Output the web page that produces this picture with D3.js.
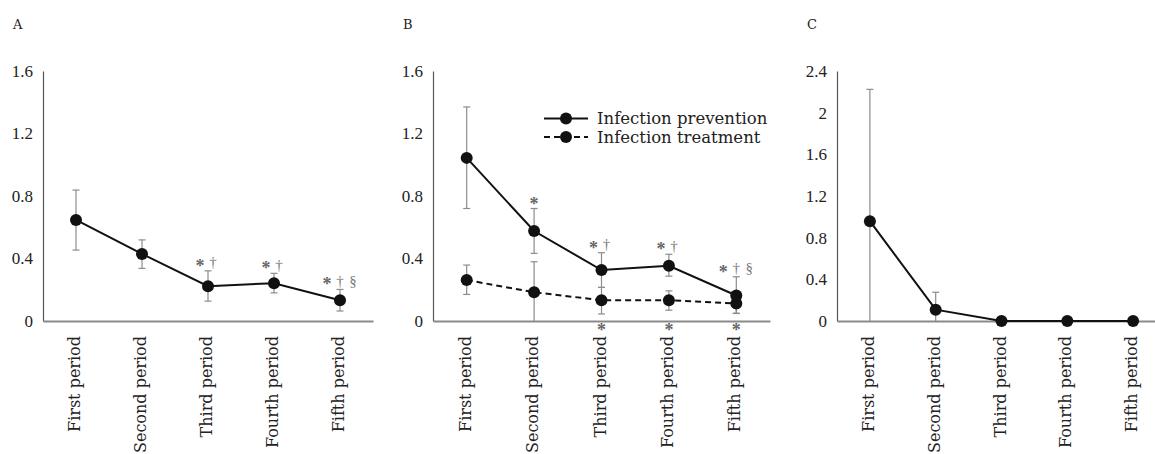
<!DOCTYPE html>
<html>
<head>
<meta charset="utf-8">
<script src="https://cdn.jsdelivr.net/npm/d3@7"></script>
<style>
  body { margin: 0; background: #fff; }
  svg { display: block; }
</style>
</head>
<body>
<svg id="chart" width="1155" height="454"></svg>
<script>
const periods = ["First period", "Second period", "Third period", "Fourth period", "Fifth period"];

const ticksAB = [0, 0.4, 0.8, 1.2, 1.6];
const ticksC = [0, 0.4, 0.8, 1.2, 1.6, 2, 2.4];

// panel A
const aMean = [0.647, 0.429, 0.223, 0.242, 0.133];
const aLow = [0.454, 0.337, 0.127, 0.180, 0.064];
const aHigh = [0.838, 0.519, 0.321, 0.305, 0.202];
const aMarks = ["", "", "*†", "*†", "*†§"];

// panel B
const prevMean = [1.044, 0.576, 0.326, 0.353, 0.163];
const prevLow = [0.720, 0.433, 0.215, 0.287, 0.048];
const prevHigh = [1.370, 0.720, 0.437, 0.427, 0.283];
const prevMarks = ["", "*", "*†", "*†", "*†§"];
const treatMean = [0.262, 0.184, 0.133, 0.133, 0.112];
const treatLow = [0.170, 0, 0.045, 0.069, 0.050];
const treatHigh = [0.358, 0.379, 0.215, 0.193, 0.160];
const treatMarks = ["", "", "*", "*", "*"];

// panel C
const cMean = [0.958, 0.109, 0, 0, 0];
const cLow = [0, 0, 0, 0, 0];
const cHigh = [2.224, 0.276, 0, 0, 0];

const legendLabels = ["Infection prevention", "Infection treatment"];

const svg = d3.select("#chart");
const yTop = 71, yBottom = 321;
const fmt = d => String(+d.toFixed(1));

function makeSeries(mean, low, high) {
    return mean.map((m, i) => ({ period: periods[i], mean: m, low: low[i], high: high[i] }));
}

function drawPanel(opt) {
    const g = svg.append("g");
    const x = d3.scaleBand().domain(periods).range([opt.x0, opt.x1]);
    const y = d3.scaleLinear().domain([0, d3.max(opt.ticks)]).range([yBottom, yTop]);
    const cx = p => x(p) + x.bandwidth() / 2;

    g.append("text").attr("x", opt.x0 - 30).attr("y", 29)
        .attr("font-family", "DejaVu Serif").attr("font-size", 13).attr("fill", "#222")
        .text(opt.letter);

    const yAxis = g.append("g").attr("transform", `translate(${opt.x0},0)`)
        .call(d3.axisLeft(y).tickValues(opt.ticks).tickFormat(fmt).tickSize(0).tickPadding(10));
    yAxis.select(".domain").attr("stroke", "#555").attr("stroke-width", 1.2);
    yAxis.selectAll("text").attr("font-family", "Liberation Serif").attr("font-size", 17).attr("fill", "#222");

    const xAxis = g.append("g").attr("transform", `translate(0,${yBottom})`)
        .call(d3.axisBottom(x).tickSize(0).tickFormat(""));
    xAxis.select(".domain").attr("stroke", "#8a8a8a").attr("stroke-width", 2);

    g.selectAll(".plabel").data(periods).enter().append("text")
        .attr("transform", d => `translate(${cx(d) + 4},336) rotate(-90)`)
        .attr("text-anchor", "end")
        .attr("font-family", "DejaVu Serif").attr("font-size", 16).attr("fill", "#222")
        .text(d => d);

    opt.series.forEach(s => {
        const data = makeSeries(s.mean, s.low, s.high);
        const eb = g.append("g").attr("stroke", "#8c8c8c").attr("stroke-width", 1.2);
        data.forEach(d => {
            if (d.high === d.low) return;
            eb.append("line").attr("x1", cx(d.period)).attr("x2", cx(d.period))
                .attr("y1", y(d.low)).attr("y2", y(d.high));
            [d.low, d.high].forEach(v => {
                if (v === 0) return;
                eb.append("line").attr("x1", cx(d.period) - 3.5).attr("x2", cx(d.period) + 3.5)
                    .attr("y1", y(v)).attr("y2", y(v));
            });
        });
    });

    opt.series.forEach(s => {
        const data = makeSeries(s.mean, s.low, s.high);
        g.append("path").datum(data)
            .attr("fill", "none").attr("stroke", "#111").attr("stroke-width", 2)
            .attr("stroke-dasharray", s.dashed ? "6,4" : null)
            .attr("d", d3.line().x(d => cx(d.period)).y(d => y(d.mean)));
        g.selectAll(null).data(data).enter().append("circle")
            .attr("cx", d => cx(d.period)).attr("cy", d => y(d.mean)).attr("r", 6)
            .attr("fill", "#111");

        if (s.marks) {
            data.forEach((d, i) => {
                const chars = s.marks[i].split("");
                // centre line of the symbols
                const midY = s.below ? yBottom + 5 : y(d.high) - 8.5;
                chars.forEach((c, k) => {
                    const xx = cx(d.period) + (k - (chars.length - 1) / 2) * 13 - (chars.length === 2 ? 1.5 : 0);
                    g.append("text").attr("x", xx).attr("y", c === "*" ? midY + 9.5 : midY + 5)
                        .attr("text-anchor", "middle")
                        .attr("font-family", "Liberation Serif")
                        .attr("font-size", c === "*" ? 18 : 15)
                        .attr("font-weight", c === "*" ? "bold" : "normal")
                        .attr("fill", c === "*" ? "#666" : "#777")
                        .text(c);
                });
            });
        }
    });

    if (opt.legend) {
        opt.series.forEach((s, i) => {
            const ly = 118.5 + i * 18.5;
            const lg = g.append("g");
            lg.append("line").attr("x1", 544).attr("x2", 588).attr("y1", ly).attr("y2", ly)
                .attr("stroke", "#111").attr("stroke-width", 2)
                .attr("stroke-dasharray", s.dashed ? "6,4" : null);
            lg.append("circle").attr("cx", 566).attr("cy", ly).attr("r", 6).attr("fill", "#111");
            lg.append("text").attr("x", 597).attr("y", ly).attr("dy", "0.35em")
                .attr("font-family", "DejaVu Serif").attr("font-size", 16.5).attr("fill", "#222")
                .text(legendLabels[i]);
        });
    }
}

drawPanel({
    letter: "A", x0: 43, x1: 373, ticks: ticksAB,
    series: [{ mean: aMean, low: aLow, high: aHigh, marks: aMarks }]
});

drawPanel({
    letter: "B", x0: 433, x1: 770, ticks: ticksAB, legend: true,
    series: [
        { mean: prevMean, low: prevLow, high: prevHigh, marks: prevMarks },
        { mean: treatMean, low: treatLow, high: treatHigh, marks: treatMarks, below: true, dashed: true }
    ]
});

drawPanel({
    letter: "C", x0: 837, x1: 1166, ticks: ticksC,
    series: [{ mean: cMean, low: cLow, high: cHigh }]
});
</script>
</body>
</html>
